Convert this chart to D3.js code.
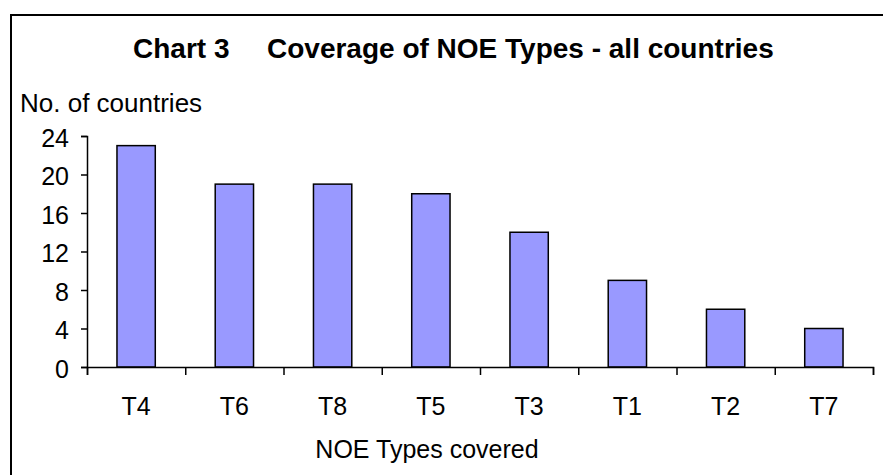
<!DOCTYPE html>
<html>
<head>
<meta charset="utf-8">
<script src="https://cdn.jsdelivr.net/npm/d3@7"></script>
<style>
  body { margin: 0; background: #fff; }
  svg { display: block; font-family: Arial, "Liberation Sans", sans-serif; }
</style>
</head>
<body>
<svg id="mySvg"></svg>
<script>
// data
var categories = ["T4", "T6", "T8", "T5", "T3", "T1", "T2", "T7"];
var countries = [23, 19, 19, 18, 14, 9, 6, 4];
var yTicks = [0, 4, 8, 12, 16, 20, 24];

var svgWidth = 883;
var svgHeight = 475;

var plotLeft = 87, plotRight = 873;
var plotTop = 136, plotBottom = 367;

var svg = d3.select("#mySvg")
    .attr("width", svgWidth)
    .attr("height", svgHeight);

// chart frame (runs past the right and bottom edge)
svg.append("rect")
    .attr("x", 11)
    .attr("y", 15)
    .attr("width", svgWidth)
    .attr("height", svgHeight)
    .attr("fill", "none")
    .attr("stroke", "black")
    .attr("stroke-width", 2);

var data = categories.map(function(c, i) {
    return { type: c, value: countries[i] };
});

var xScale = d3.scaleBand()
    .domain(categories)
    .range([plotLeft, plotRight])
    .padding(0);

var xEdges = d3.scaleLinear()
    .domain([0, categories.length])
    .range([plotLeft, plotRight]);

var yScale = d3.scaleLinear()
    .domain([0, 24])
    .range([plotBottom, plotTop]);

var barWidth = xScale.bandwidth() * 0.39;

svg.selectAll(".bar")
    .data(data)
    .enter()
    .append("rect")
    .attr("class", "bar")
    .attr("x", d => xScale(d.type) + (xScale.bandwidth() - barWidth) / 2)
    .attr("y", d => yScale(d.value))
    .attr("width", barWidth)
    .attr("height", d => yScale(0) - yScale(d.value))
    .attr("fill", "#9999ff")
    .attr("stroke", "black")
    .attr("stroke-width", 1.5);

// y axis
var y_axis = d3.axisLeft(yScale)
    .tickValues(yTicks)
    .tickSize(6)
    .tickPadding(12);

var gy = svg.append("g")
    .attr("transform", "translate(" + plotLeft + ",0)")
    .call(y_axis);
gy.selectAll("path, line").attr("stroke", "black").attr("stroke-width", 1.5);
gy.selectAll("text")
    .attr("font-size", 25)
    .attr("dy", "0.4em")
    .attr("font-family", "Arial, 'Liberation Sans', sans-serif")
    .attr("fill", "black");

// x axis ticks at the category boundaries
var xTickAxis = d3.axisBottom(xEdges)
    .tickValues(d3.range(categories.length + 1))
    .tickSize(8)
    .tickFormat("");

var gx = svg.append("g")
    .attr("transform", "translate(0," + plotBottom + ")")
    .call(xTickAxis);
gx.selectAll("path, line").attr("stroke", "black").attr("stroke-width", 1.5);

// x category labels
var xLabelAxis = d3.axisBottom(xScale)
    .tickSize(0)
    .tickPadding(30);

var gxl = svg.append("g")
    .attr("transform", "translate(0," + plotBottom + ")")
    .call(xLabelAxis);
gxl.select(".domain").remove();
gxl.selectAll("text")
    .attr("font-size", 25)
    .attr("font-family", "Arial, 'Liberation Sans', sans-serif")
    .attr("fill", "black");

// titles
svg.append("text")
    .attr("x", 133)
    .attr("y", 58)
    .attr("font-size", 28)
    .attr("font-weight", "bold")
    .text("Chart 3");

svg.append("text")
    .attr("x", 267)
    .attr("y", 58)
    .attr("font-size", 28)
    .attr("font-weight", "bold")
    .text("Coverage of NOE Types - all countries");

svg.append("text")
    .attr("x", 20)
    .attr("y", 112)
    .attr("font-size", 26)
    .text("No. of countries");

svg.append("text")
    .attr("x", 427)
    .attr("y", 458)
    .attr("text-anchor", "middle")
    .attr("font-size", 25)
    .text("NOE Types covered");
</script>
</body>
</html>
